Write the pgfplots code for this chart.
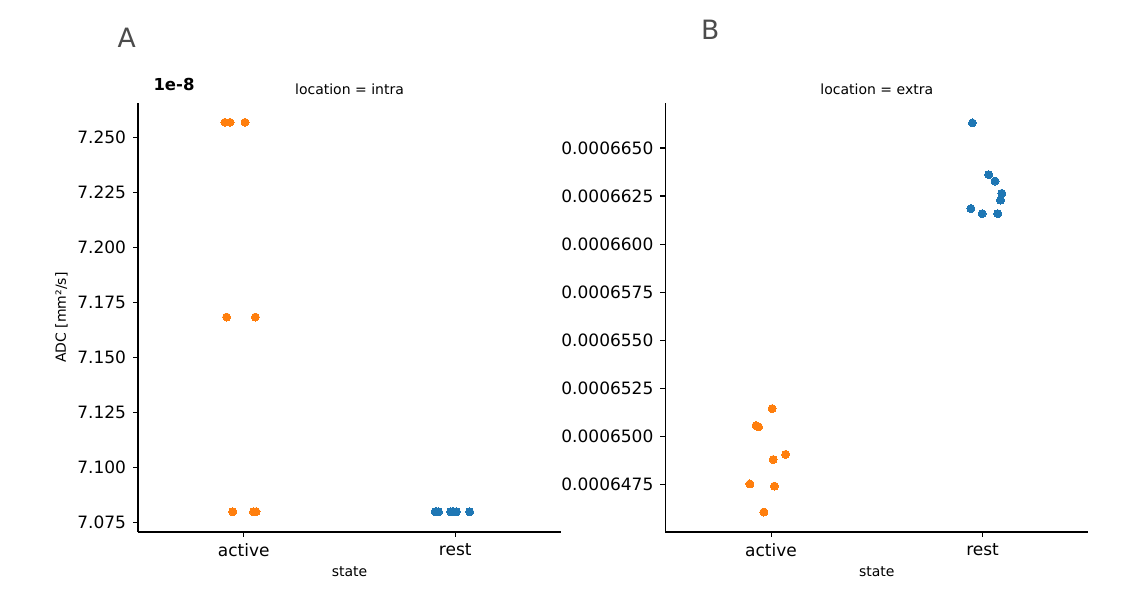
\documentclass[border=0pt]{standalone}
\usepackage{fontspec}
\setmainfont{DejaVu Sans}
\usepackage{pgfplots}
\pgfplotsset{compat=1.18}
\definecolor{c0}{HTML}{1F77B4}
\definecolor{c1}{HTML}{FF7F0E}

\pgfplotsset{
  panel/.style={
    scale only axis, width=211.5pt, height=214.5pt,
    anchor=south west,
    xmin=-0.5, xmax=1.5,
    xtick={0,1}, xticklabels={active,rest},
    axis x line*=bottom, axis y line*=left,
    axis line style={-, line width=0.55pt, black},
    tick align=outside, major tick length=2.45pt,
    tick style={line width=0.55pt, black},
    ticklabel style={font=\fontsize{8.5}{10}\selectfont},
    xlabel={state},
    xlabel style={font=\fontsize{7}{8}\selectfont, at={(axis description cs:0.5,0)}, anchor=base, yshift=-22pt},
    title style={font=\fontsize{7}{8}\selectfont, at={(axis description cs:0.5,1)}, anchor=base, yshift=-2pt},
    clip=false,
  },
  pts/.style={only marks, mark=*, mark size=2pt, mark options={fill=#1, draw=#1, line width=0pt}},
}

\begin{document}
\begin{tikzpicture}
\useasboundingbox (0,0) rectangle (571.5pt,299.5pt);

% panel A: location = intra (values in units of 1e-8)
\begin{axis}[panel,
  at={(69pt,33.5pt)},
  title={location = intra},
  ymin=7.0706, ymax=7.2656,
  ytick={7.075,7.100,7.125,7.150,7.175,7.200,7.225,7.250},
  yticklabels={7.075,7.100,7.125,7.150,7.175,7.200,7.225,7.250},
  ylabel={ADC [mm²/s]},
  ylabel style={font=\fontsize{7}{8}\selectfont, at={(axis description cs:-0.181,0.5)}, anchor=center},
]
\addplot[pts=c1] coordinates {
  (-0.089,7.2568) (-0.065,7.2568) (0.006,7.2568)
  (-0.081,7.1683) (0.055,7.1683)
  (-0.052,7.0798) (0.046,7.0798) (0.058,7.0798)
};
\addplot[pts=c0] coordinates {
  (0.905,7.0798) (0.913,7.0798) (0.921,7.0798)
  (0.979,7.0798) (0.986,7.0798) (0.993,7.0798)
  (1.005,7.0798) (1.068,7.0798)
};
\end{axis}

% panel B: location = extra (values in units of 1e-7)
\begin{axis}[panel,
  at={(332.65pt,33.5pt)},
  title={location = extra},
  ymin=6450.2, ymax=6673.4,
  ytick={6475,6500,6525,6550,6575,6600,6625,6650},
  yticklabels={0.0006475,0.0006500,0.0006525,0.0006550,0.0006575,0.0006600,0.0006625,0.0006650},
]
\addplot[pts=c1] coordinates {
  (0.005,6514.4) (-0.071,6505.6) (-0.059,6504.9) (0.069,6490.6)
  (0.010,6487.9) (-0.100,6475.2) (0.016,6474.1) (-0.034,6460.6)
};
\addplot[pts=c0] coordinates {
  (0.952,6663.0) (1.029,6636.1) (1.059,6632.8) (1.091,6626.4)
  (1.085,6622.9) (0.945,6618.5) (0.998,6615.8) (1.072,6615.8)
};
\end{axis}

\node[font=\bfseries\fontsize{8.25}{10}\selectfont, anchor=base] at (87pt,254pt) {1e-8};
\node[text=black!70, font=\fontsize{13.3}{15}\selectfont, anchor=base] at (63.4pt,275.7pt) {A};
\node[text=black!70, font=\fontsize{13.3}{15}\selectfont, anchor=base] at (355.1pt,279.85pt) {B};
\end{tikzpicture}
\end{document}
